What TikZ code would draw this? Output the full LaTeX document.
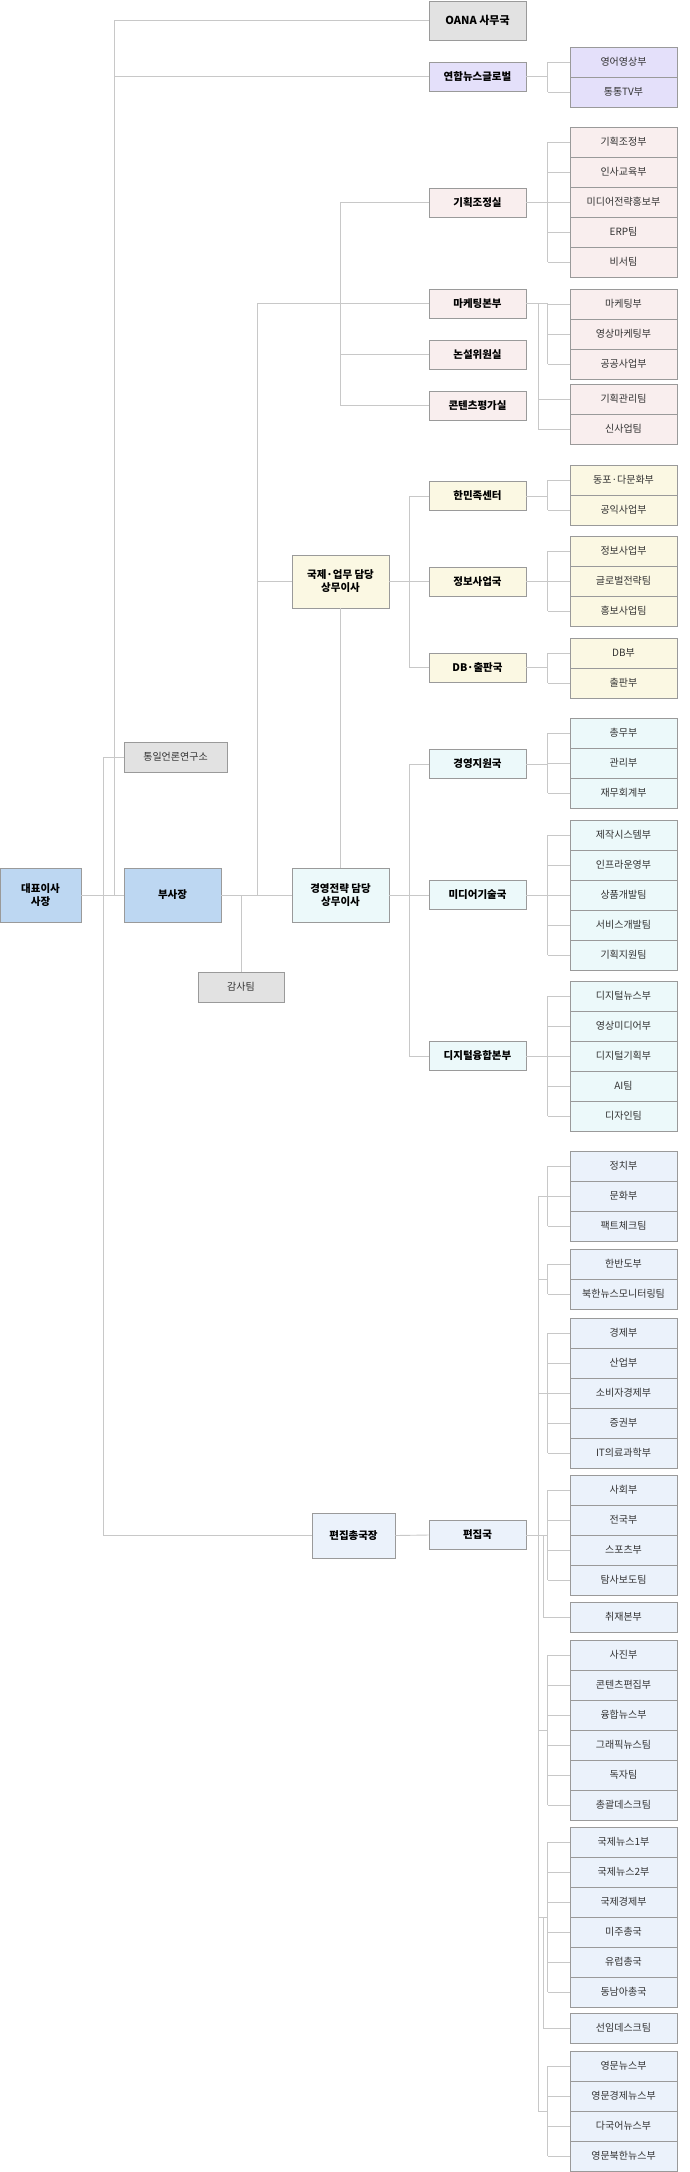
\documentclass[tikz,border=0pt]{standalone}
\usepackage{fontspec}
\setmainfont{Noto Sans CJK KR}
\usetikzlibrary{calc}
\definecolor{lnc}{HTML}{C8C8C8}
\definecolor{bdc}{HTML}{9A9A9A}
\definecolor{cgray}{HTML}{E2E2E2}
\definecolor{cpur}{HTML}{E4E0FA}
\definecolor{cpink}{HTML}{F9EEEE}
\definecolor{cyel}{HTML}{FBF8E3}
\definecolor{ccyan}{HTML}{ECF9FA}
\definecolor{cblue}{HTML}{BDD7F2}
\definecolor{cedit}{HTML}{EBF2FB}
\definecolor{txt}{HTML}{333333}
\tikzset{
 ln/.style={draw=lnc,line width=0.9pt},
 box/.style={draw=bdc,line width=0.9pt,inner sep=1pt,align=center,text=black},
 kid/.style={box,minimum width=107pt,minimum height=30pt,text=txt,font=\fontsize{10}{12}\selectfont},
 mid/.style={box,minimum width=97pt,minimum height=29pt,font=\fontsize{10.5}{12}\selectfont\bfseries},
 big/.style={box,font=\fontsize{10.5}{13}\selectfont\bfseries},
}
\newcommand\grp[4]{\foreach \t [count=\i] in {#4} {\node[kid,fill=#3] (#1\i) at (623.5,{#2+30*\i-15}) {\t};}}
\newcommand\brk[2]{\foreach \i in {1,...,#2} {\draw[ln] (#1\i.west) -- ++(-22,0);}
 \draw[ln] ([xshift=-22pt]#11.west) -- ([xshift=-22pt]#1#2.west);}
\begin{document}
\begin{tikzpicture}[x=1pt,y=-1pt]
\useasboundingbox (0,0) rectangle (689,2172);
% top level boxes
\node[box,fill=cgray,minimum width=97pt,minimum height=39pt,font=\fontsize{11}{13}\selectfont\bfseries] (oana) at (477.5,20.5) {OANA 사무국};
\node[mid,fill=cpur] (glob) at (477.5,76.5) {연합뉴스글로벌};
\node[mid,fill=cpink] (plan) at (477.5,202.5) {기획조정실};
\node[mid,fill=cpink] (mkt) at (477.5,303.5) {마케팅본부};
\node[mid,fill=cpink] (edit) at (477.5,354.5) {논설위원실};
\node[mid,fill=cpink] (eval) at (477.5,405.5) {콘텐츠평가실};
\node[mid,fill=cyel] (hmj) at (477.5,496) {한민족센터};
\node[mid,fill=cyel] (info) at (477.5,581.5) {정보사업국};
\node[mid,fill=cyel] (db) at (477.5,667.5) {DB·출판국};
\node[mid,fill=ccyan] (mgmt) at (477.5,764) {경영지원국};
\node[mid,fill=ccyan] (media) at (477.5,895) {미디어기술국};
\node[mid,fill=ccyan] (digi) at (477.5,1056) {디지털융합본부};
\node[mid,fill=cedit] (news) at (477.5,1535) {편집국};
\node[big,fill=cyel,minimum width=97pt,minimum height=53pt] (intl) at (340.5,581.5) {국제·업무 담당\\상무이사};
\node[big,fill=ccyan,minimum width=97pt,minimum height=54pt] (strat) at (340.5,895) {경영전략 담당\\상무이사};
\node[big,fill=cblue,minimum width=81pt,minimum height=54pt] (ceo) at (40.5,895) {대표이사\\사장};
\node[big,fill=cblue,minimum width=97pt,minimum height=54pt] (vp) at (172.5,895) {부사장};
\node[box,fill=cgray,minimum width=103pt,minimum height=30pt,text=txt,font=\fontsize{10}{12}\selectfont] (unif) at (175.5,757) {통일언론연구소};
\node[box,fill=cgray,minimum width=86pt,minimum height=30pt,text=txt,font=\fontsize{10}{12}\selectfont] (audit) at (241,987) {감사팀};
\node[big,fill=cedit,minimum width=83pt,minimum height=45pt] (chief) at (353.5,1535.5) {편집총국장};
% children
\grp{a}{47}{cpur}{영어영상부,통통TV부}
\grp{b}{127}{cpink}{기획조정부,인사교육부,미디어전략홍보부,ERP팀,비서팀}
\grp{c}{289}{cpink}{마케팅부,영상마케팅부,공공사업부}
\grp{k}{384}{cpink}{기획관리팀,신사업팀}
\grp{d}{465}{cyel}{동포·다문화부,공익사업부}
\grp{e}{536}{cyel}{정보사업부,글로벌전략팀,홍보사업팀}
\grp{f}{638}{cyel}{DB부,출판부}
\grp{g}{718}{ccyan}{총무부,관리부,재무회계부}
\grp{h}{820}{ccyan}{제작시스템부,인프라운영부,상품개발팀,서비스개발팀,기획지원팀}
\grp{i}{981}{ccyan}{디지털뉴스부,영상미디어부,디지털기획부,AI팀,디자인팀}
\grp{p}{1151}{cedit}{정치부,문화부,팩트체크팀}
\grp{q}{1249}{cedit}{한반도부,북한뉴스모니터링팀}
\grp{r}{1318}{cedit}{경제부,산업부,소비자경제부,증권부,IT의료과학부}
\grp{s}{1475}{cedit}{사회부,전국부,스포츠부,탐사보도팀}
\grp{t}{1602}{cedit}{취재본부}
\grp{u}{1640}{cedit}{사진부,콘텐츠편집부,융합뉴스부,그래픽뉴스팀,독자팀,총괄데스크팀}
\grp{v}{1827}{cedit}{국제뉴스1부,국제뉴스2부,국제경제부,미주총국,유럽총국,동남아총국}
\grp{w}{2013}{cedit}{선임데스크팀}
\grp{z}{2051}{cedit}{영문뉴스부,영문경제뉴스부,다국어뉴스부,영문북한뉴스부}
% brackets
\brk{a}{2}\brk{b}{5}\brk{c}{3}\brk{d}{2}\brk{e}{3}\brk{f}{2}\brk{g}{3}\brk{h}{5}\brk{i}{5}
\brk{p}{3}\brk{q}{2}\brk{r}{5}\brk{s}{4}\brk{u}{6}\brk{v}{6}\brk{z}{4}
\foreach \n in {glob,plan,mkt,hmj,info,db,mgmt,media,digi} {\draw[ln] (\n.east) -- ++(22,0);}
% marketing second group
\draw[ln] (538,303.5) -- (538,429);
\draw[ln] (k1.west) -- (538,399); \draw[ln] (k2.west) -- (538,429);
% top-level connectors
\draw[ln] (oana.west) -- (114,20.5) -- (114,895);
\draw[ln] (glob.west) -- (114,76.5);
\draw[ln] (ceo.east) -- (vp.west);
\draw[ln] (unif.west) -- (103,757) -- (103,1535.5) -- (chief.west);
\draw[ln] (chief.east) -- (news.west);
\draw[ln] (vp.east) -- (strat.west);
\draw[ln] (241,895) -- (audit.north);
\draw[ln] (mkt.west) -- (257,303.5) -- (257,895);
\draw[ln] (intl.west) -- (257,581.5);
\draw[ln] (plan.west) -- (340,202.5) -- (340,405.5) -- (eval.west);
\draw[ln] (edit.west) -- (340,354.5);
\draw[ln] (intl.south) -- (strat.north);
\draw[ln] (intl.east) -- (info.west);
\draw[ln] (hmj.west) -- (409,496) -- (409,667.5) -- (db.west);
\draw[ln] (strat.east) -- (media.west);
\draw[ln] (mgmt.west) -- (409,764) -- (409,1056) -- (digi.west);
% editorial trunk
\draw[ln] (news.east) -- (538,1535);
\draw[ln] (538,1196) -- (538,2111);
\foreach \yy in {1196,1279,1393,1535,1730,1917,2111} {\draw[ln] (538,\yy) -- (548,\yy);}
\draw[ln] (538,1535) -- (543,1535) -- (543,1617) -- (t1.west);
\draw[ln] (538,1917) -- (543,1917) -- (543,2028) -- (w1.west);
\end{tikzpicture}
\end{document}
